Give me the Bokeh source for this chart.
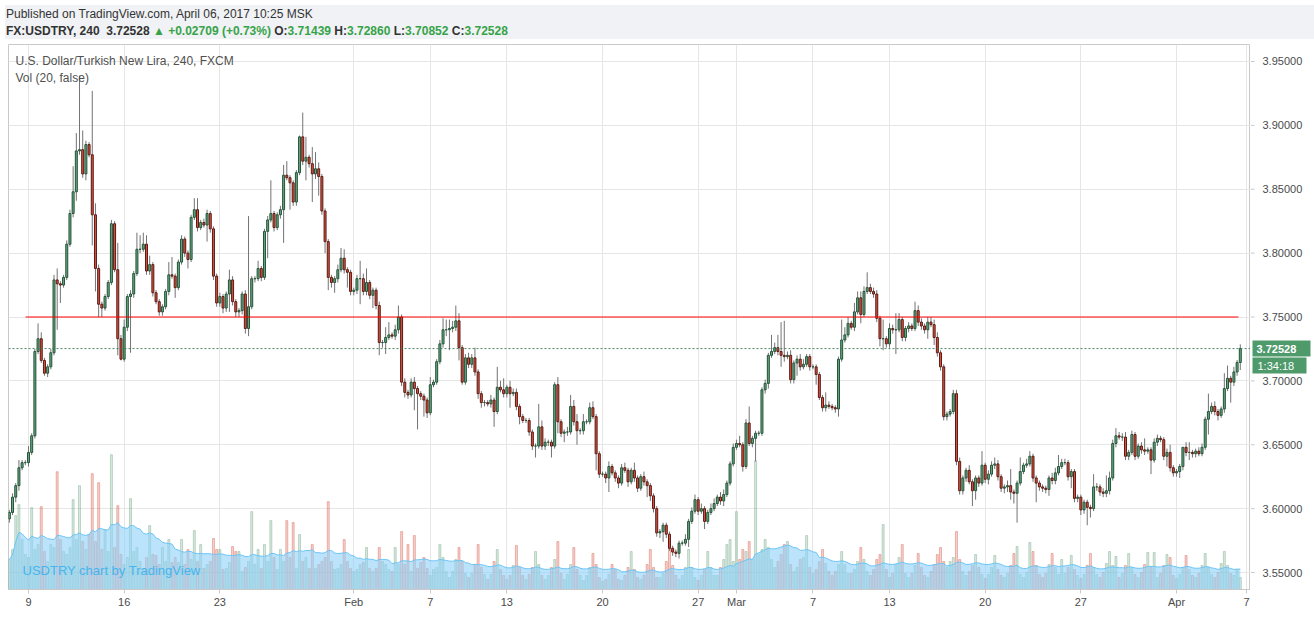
import numpy as np
import pandas as pd
from bokeh.plotting import figure
from bokeh.models import (Range1d, FixedTicker, Span, Label, ColumnDataSource, Div)
from bokeh.layouts import column, row
from bokeh.embed import file_html
from bokeh.resources import INLINE
from bokeh.core.properties import value

# ---------------- data ----------------
first_open = 3.592
close = [
    3.597, 3.609, 3.618, 3.632, 3.636, 3.636, 3.644, 3.657, 3.723, 3.733,
    3.716, 3.706, 3.711, 3.722, 3.779, 3.776, 3.775, 3.781, 3.807, 3.831,
    3.848, 3.880, 3.881, 3.862, 3.885, 3.877, 3.830, 3.788, 3.760, 3.757,
    3.766, 3.777, 3.823, 3.787, 3.733, 3.717, 3.742, 3.766, 3.768, 3.784,
    3.803, 3.803, 3.807, 3.786, 3.791, 3.769, 3.762, 3.754, 3.758, 3.770,
    3.783, 3.782, 3.773, 3.793, 3.811, 3.800, 3.795, 3.828, 3.834, 3.820,
    3.824, 3.822, 3.831, 3.819, 3.782, 3.761, 3.766, 3.757, 3.768, 3.779,
    3.762, 3.754, 3.755, 3.768, 3.741, 3.758, 3.780, 3.780, 3.788, 3.781,
    3.817, 3.826, 3.831, 3.820, 3.830, 3.834, 3.861, 3.859, 3.855, 3.840,
    3.863, 3.891, 3.872, 3.875, 3.870, 3.862, 3.866, 3.860, 3.833, 3.809,
    3.781, 3.777, 3.780, 3.787, 3.796, 3.787, 3.785, 3.770, 3.771, 3.780,
    3.780, 3.770, 3.777, 3.767, 3.771, 3.759, 3.730, 3.730, 3.734, 3.736,
    3.735, 3.740, 3.750, 3.699, 3.691, 3.689, 3.699, 3.694, 3.690, 3.688,
    3.685, 3.675, 3.697, 3.699, 3.715, 3.729, 3.740, 3.740, 3.741, 3.742,
    3.747, 3.726, 3.699, 3.718, 3.713, 3.718, 3.707, 3.690, 3.683, 3.683,
    3.682, 3.685, 3.676, 3.695, 3.693, 3.690, 3.695, 3.690, 3.691, 3.680,
    3.672, 3.669, 3.669, 3.660, 3.649, 3.649, 3.664, 3.649, 3.652, 3.652,
    3.649, 3.697, 3.668, 3.659, 3.660, 3.660, 3.680, 3.668, 3.661, 3.661,
    3.668, 3.668, 3.679, 3.672, 3.643, 3.627, 3.627, 3.624, 3.633, 3.628,
    3.624, 3.620, 3.632, 3.630, 3.621, 3.630, 3.624, 3.616, 3.625, 3.621,
    3.618, 3.610, 3.600, 3.581, 3.582, 3.587, 3.580, 3.569, 3.566, 3.565,
    3.573, 3.573, 3.576, 3.590, 3.598, 3.607, 3.598, 3.600, 3.590, 3.597,
    3.600, 3.604, 3.609, 3.606, 3.611, 3.620, 3.635, 3.648, 3.651, 3.650,
    3.633, 3.667, 3.651, 3.655, 3.659, 3.659, 3.693, 3.698, 3.720, 3.723,
    3.726, 3.723, 3.720, 3.719, 3.720, 3.701, 3.714, 3.717, 3.711, 3.713,
    3.719, 3.711, 3.711, 3.705, 3.687, 3.679, 3.681, 3.680, 3.679, 3.678,
    3.717, 3.732, 3.736, 3.745, 3.742, 3.754, 3.765, 3.752, 3.770, 3.773,
    3.770, 3.768, 3.749, 3.733, 3.733, 3.729, 3.741, 3.740, 3.740, 3.748,
    3.734, 3.741, 3.743, 3.741, 3.755, 3.746, 3.743, 3.740, 3.746, 3.744,
    3.734, 3.722, 3.711, 3.672, 3.674, 3.676, 3.690, 3.637, 3.614, 3.624,
    3.630, 3.621, 3.614, 3.624, 3.620, 3.634, 3.623, 3.627, 3.634, 3.635,
    3.625, 3.616, 3.617, 3.618, 3.613, 3.612, 3.620, 3.629, 3.634, 3.635,
    3.641, 3.624, 3.620, 3.617, 3.616, 3.615, 3.624, 3.622, 3.628, 3.633,
    3.636, 3.636, 3.625, 3.629, 3.608, 3.609, 3.599, 3.605, 3.601, 3.600,
    3.617, 3.617, 3.613, 3.612, 3.614, 3.624, 3.651, 3.657, 3.656, 3.656,
    3.641, 3.644, 3.658, 3.641, 3.649, 3.646, 3.645, 3.646, 3.638, 3.652,
    3.655, 3.654, 3.641, 3.644, 3.632, 3.628, 3.629, 3.633, 3.648, 3.644,
    3.644, 3.643, 3.645, 3.643, 3.648, 3.670, 3.676, 3.680, 3.676, 3.673,
    3.678, 3.694, 3.702, 3.699, 3.707, 3.7144, 3.72528,
]
# wick lengths beyond the body, in 0.001 units
upper_wick = [
    2, 3, 2, 6, 2, 2, 5, 2, 2, 12,   5, 2, 2, 3, 4, 9, 2, 2, 3, 3,
    20, 14, 58, 15, 3, 2, 50, 9, 3, 2,   2, 2, 3, 2, 21, 3, 6, 2, 3, 2,
    13, 11, 9, 7, 7, 2, 2, 2, 2, 2,   10, 14, 2, 2, 3, 2, 2, 2, 9, 9,
    2, 3, 3, 2, 2, 2, 3, 2, 2, 8,   3, 2, 2, 2, 3, 71, 2, 2, 6, 2,
    2, 3, 26, 2, 2, 3, 8, 11, 2, 2,   2, 1, 19, 16, 2, 13, 13, 5, 2, 2,
    2, 2, 2, 4, 8, 7, 2, 2, 2, 3,   14, 4, 11, 2, 2, 2, 3, 2, 8, 10,
    2, 4, 9, 2, 3, 2, 3, 4, 2, 2,   2, 2, 6, 2, 2, 3, 9, 8, 7, 5,
    12, 6, 2, 3, 4, 3, 8, 2, 2, 2,   2, 4, 2, 16, 5, 9, 2, 5, 3, 3,
    2, 2, 2, 2, 2, 2, 18, 5, 3, 2,   2, 2, 6, 2, 2, 4, 9, 5, 6, 2,
    6, 2, 4, 5, 2, 2, 2, 2, 4, 2,   2, 2, 3, 4, 2, 2, 6, 2, 2, 4,
    2, 2, 2, 2, 2, 2, 2, 2, 2, 2,   2, 2, 4, 2, 3, 4, 2, 4, 2, 2,
    4, 4, 2, 4, 4, 2, 2, 3, 3, 6,   2, 3, 13, 2, 2, 2, 2, 3, 2, 13,
    4, 10, 23, 27, 3, 4, 2, 3, 4, 4,   2, 2, 2, 2, 2, 2, 10, 3, 2, 2,
    2, 16, 6, 5, 2, 7, 5, 5, 4, 12,   3, 3, 3, 2, 15, 2, 4, 3, 13, 5,
    2, 2, 3, 2, 7, 4, 3, 2, 4, 4,   4, 4, 2, 2, 2, 2, 3, 3, 3, 2,
    2, 4, 2, 2, 2, 11, 2, 3, 3, 5,   3, 2, 2, 4, 13, 2, 2, 11, 2, 4,
    4, 2, 2, 2, 2, 2, 2, 4, 4, 9,   3, 3, 2, 2, 2, 2, 2, 2, 2, 2,
    10, 3, 2, 3, 12, 5, 3, 6, 3, 3,   4, 2, 3, 2, 2, 3, 9, 2, 2, 3,
    3, 2, 2, 3, 6, 2, 2, 2, 0, 4,   8, 2, 2, 3, 3, 2, 14, 3, 4, 2,
    2, 12, 10, 2, 4, 2, 3.3,
]
lower_wick = [
    3, 2, 4, 4, 2, 2, 3, 2, 2, 2,   2, 2, 3, 2, 2, 36, 14, 2, 2, 2,
    3, 7, 3, 3, 5, 2, 24, 18, 10, 7,   2, 2, 2, 2, 13, 1, 2, 3, 44, 3,
    2, 3, 2, 3, 3, 3, 2, 3, 3, 2,   3, 2, 8, 2, 2, 3, 7, 2, 2, 3,
    2, 2, 13, 3, 3, 3, 3, 4, 3, 14,   3, 4, 4, 3, 4, 6, 2, 3, 2, 3,
    2, 21, 2, 3, 2, 3, 26, 2, 21, 3,   3, 2, 3, 15, 3, 22, 4, 15, 3, 9,
    10, 4, 8, 3, 2, 3, 12, 3, 3, 3,   20, 3, 3, 3, 10, 3, 10, 4, 9, 2,
    2, 3, 3, 3, 4, 3, 2, 17, 28, 3,   13, 4, 2, 2, 2, 2, 3, 5, 16, 3,
    3, 10, 2, 2, 3, 3, 3, 4, 4, 3,   2, 3, 12, 2, 2, 3, 3, 11, 2, 3,
    6, 2, 2, 3, 3, 9, 2, 3, 3, 3,   9, 2, 9, 3, 7, 3, 2, 3, 11, 3,
    3, 2, 2, 2, 13, 3, 2, 4, 11, 2,   3, 4, 2, 2, 4, 2, 3, 3, 2, 3,
    9, 4, 3, 3, 4, 8, 3, 2, 3, 3,   4, 2, 2, 6, 2, 2, 3, 2, 6, 2,
    2, 2, 2, 3, 4, 2, 2, 2, 2, 2,   4, 2, 2, 3, 18, 2, 2, 3, 4, 2,
    2, 3, 9, 4, 2, 3, 3, 10, 3, 2,   2, 3, 2, 8, 2, 3, 3, 2, 2, 3,
    6, 2, 2, 2, 2, 3, 2, 7, 2, 2,   2, 3, 3, 6, 9, 3, 3, 3, 19, 2,
    3, 3, 3, 2, 2, 3, 3, 3, 7, 2,   6, 3, 3, 3, 3, 2, 2, 3, 3, 3,
    3, 2, 12, 7, 3, 2, 3, 4, 2, 3,   3, 3, 4, 4, 6, 8, 23, 2, 2, 2,
    2, 3, 15, 3, 3, 3, 5, 3, 3, 2,   2, 2, 3, 9, 3, 3, 4, 3, 14, 7,
    2, 3, 3, 3, 3, 3, 2, 3, 2, 3,   3, 3, 2, 3, 2, 3, 3, 2, 11, 2,
    3, 2, 3, 8, 3, 3, 3, 5, 3, 3,   6, 3, 3, 2, 2, 2, 12, 2, 3, 4,
    2, 3, 2, 16, 3, 3, 5.9,
]
# volume per bar (relative units), one row per trading day
volume = [
    30, 40, 74, 85, 50, 35,
    32, 82, 40, 45, 83, 38,
    28, 45, 42, 118, 50, 38,
    35, 42, 90, 50, 104, 48,
    40, 55, 116, 48, 107, 40,
    60, 38, 135, 42, 84, 35,
    25, 32, 91, 38, 42, 28,
    21, 32, 64, 35, 34, 25,
    42, 28, 50, 27, 32, 27,
    50, 25, 40, 30, 59, 28,
    45, 21, 25, 28, 51, 40,
    40, 20, 21, 27, 43, 38,
    38, 18, 22, 28, 78, 25,
    40, 21, 45, 28, 69, 32,
    20, 40, 28, 69, 32, 67,
    21, 55, 28, 32, 21, 45,
    21, 25, 28, 32, 88, 28,
    20, 21, 25, 50, 28, 21,
    18, 20, 25, 27, 42, 21,
    18, 21, 42, 28, 25, 20,
    18, 42, 25, 58, 25, 45,
    18, 54, 21, 27, 32, 21,
    14, 20, 22, 45, 32, 18,
    12, 18, 30, 42, 28, 16,
    12, 16, 25, 45, 22, 15,
    10, 15, 28, 40, 20, 14,
    10, 14, 24, 44, 22, 14,
    10, 15, 22, 38, 25, 14,
    10, 14, 22, 30, 48, 16,
    10, 15, 25, 42, 20, 14,
    9, 14, 22, 36, 25, 12,
    8, 10, 15, 25, 20, 10,
    9, 14, 22, 38, 20, 12,
    10, 14, 25, 40, 22, 12,
    12, 16, 28, 45, 24, 14,
    10, 14, 22, 40, 22, 12,
    9, 14, 20, 38, 22, 14,
    14, 22, 30, 45, 50, 28,
    78, 30, 40, 38, 48, 30,
    129, 35, 40, 50, 42, 30,
    22, 28, 35, 45, 48, 25,
    18, 22, 30, 32, 54, 22,
    16, 20, 28, 40, 26, 18,
    14, 18, 25, 38, 25, 16,
    16, 20, 28, 42, 30, 18,
    14, 20, 30, 35, 65, 20,
    12, 16, 25, 32, 45, 16,
    12, 16, 24, 36, 22, 14,
    12, 18, 25, 35, 42, 28,
    22, 28, 32, 58, 30, 18,
    14, 18, 24, 35, 22, 15,
    11, 15, 22, 34, 20, 14,
    12, 16, 24, 36, 43, 15,
    12, 17, 47, 38, 24, 15,
    12, 16, 25, 36, 22, 15,
    30, 16, 22, 34, 20, 14,
    11, 15, 24, 36, 22, 15,
    12, 17, 26, 38, 24, 33,
    12, 16, 24, 36, 22, 15,
    12, 17, 25, 37, 22, 37,
    12, 16, 24, 35, 32, 14,
    11, 15, 22, 34, 20, 14,
    12, 16, 24, 36, 22, 15,
    12, 17, 26, 38, 24, 16,
    14, 20, 12,
]
tick_bars = [6, 36, 66, 108, 132, 156, 186, 216, 228, 252, 276, 306, 336, 366, 388]
tick_labels = ["9", "16", "23", "Feb", "7", "13", "20", "27", "Mar", "7", "13", "20", "27", "Apr", "7"]
price_ticks = [3.55, 3.60, 3.65, 3.70, 3.75, 3.80, 3.85, 3.90, 3.95]
level_price = 3.75
level_start_bar = 5.1
level_end_bar = 385.4
last_price = 3.72528
countdown = "1:34:18"
vol_ma_length = 20

# ---------------- derived ----------------
n = len(close)
idx = np.arange(n)
c = np.array(close)
o = np.concatenate([[first_open], c[:-1]])
top = np.maximum(o, c)
bot = np.minimum(o, c)
high = top + np.array(upper_wick) / 1000.0
low = bot - np.array(lower_wick) / 1000.0
up = c >= o
vol = np.array(volume, dtype=float)
vol_ma = pd.Series(vol).rolling(vol_ma_length, min_periods=1).mean().values

UP_FILL, UP_LINE = "#6ba583", "#225437"
DN_FILL, DN_LINE = "#d75442", "#5b1a13"
WICK = "#737375"
TXT = "#4a4a4a"
AXIS = "#c9c9c9"
TAG = "#4f9a6b"
FONT = "Liberation Sans"

src = ColumnDataSource(dict(
    x=idx, top=top, bot=bot, high=high, low=low, vol=vol, ma=vol_ma,
    fill=[UP_FILL if u else DN_FILL for u in up],
    line=[UP_LINE if u else DN_LINE for u in up],
))

LEFT = 8
FRAME_W = 1242
FRAME_H = 546
FIG_H = 566
STRIP_W = 62
TOTAL_W = LEFT + FRAME_W + STRIP_W

Y0, Y1 = 3.5367, 3.9633
y_range = Range1d(Y0, Y1)
p = figure(width=LEFT + FRAME_W, height=FIG_H, output_backend="svg", toolbar_location=None,
           x_range=Range1d(-0.27, 389.2), y_range=y_range,
           y_axis_location=None, min_border_left=LEFT, min_border_top=0,
           min_border_right=0, min_border_bottom=FIG_H - FRAME_H,
           background_fill_color="white", border_fill_color="white",
           outline_line_color=AXIS)
p.extra_y_ranges = {"vol": Range1d(0, FRAME_H)}

# grid
p.xgrid.ticker = FixedTicker(ticks=tick_bars)
p.ygrid.ticker = FixedTicker(ticks=price_ticks)
p.xgrid.grid_line_color = "#e6e6e6"
p.ygrid.grid_line_color = "#e6e6e6"

# volume bars + volume MA area
p.vbar(x="x", width=0.62, top="vol", bottom=0, source=src, y_range_name="vol",
       fill_color="fill", fill_alpha=0.25, line_color="fill", line_alpha=0.4, line_width=1)
p.varea(x="x", y1=0, y2="ma", source=src, y_range_name="vol",
        fill_color="#8dd2fa", fill_alpha=0.6)
p.line(x="x", y="ma", source=src, y_range_name="vol", line_color="#6cc4f5", line_width=1)

# candles
p.segment(x0="x", y0="low", x1="x", y1="high", source=src, line_color=WICK, line_width=1)
p.vbar(x="x", width=0.62, top="top", bottom="bot", source=src,
       fill_color="fill", line_color="line", line_width=1)

# horizontal level line
p.segment(x0=[level_start_bar], y0=[level_price], x1=[level_end_bar], y1=[level_price],
          line_color="#ff0000", line_width=1)
# last price line
p.add_layout(Span(location=last_price, dimension="width", line_color="#3d7a57",
                  line_dash="2 2", line_width=1, line_alpha=0.9))

# time axis
xa = p.xaxis[0]
xa.ticker = FixedTicker(ticks=tick_bars)
xa.major_label_overrides = {t: l for t, l in zip(tick_bars, tick_labels)}
xa.major_label_text_font = FONT
xa.major_label_text_font_size = "11px"
xa.major_label_text_color = TXT
xa.axis_line_color = AXIS
xa.major_tick_line_color = AXIS
xa.major_tick_out = 4
xa.major_tick_in = 0
xa.minor_tick_line_color = None
xa.major_label_standoff = 2

# in-chart legend texts (screen units relative to the frame)
p.add_layout(Label(x=7, y=FRAME_H - 17, x_units="screen", y_units="screen",
                   text="U.S. Dollar/Turkish New Lira, 240, FXCM", text_baseline="middle",
                   text_font=FONT, text_font_size="12px", text_color="#505050"))
p.add_layout(Label(x=7, y=FRAME_H - 34, x_units="screen", y_units="screen",
                   text="Vol (20, false)", text_baseline="middle",
                   text_font=FONT, text_font_size="12px", text_color="#505050"))
p.add_layout(Label(x=14, y=19, x_units="screen", y_units="screen",
                   text="USDTRY chart by TradingView", text_baseline="middle",
                   text_font=FONT, text_font_size="13px", text_color="#45b5ee"))

# ---------------- price scale strip ----------------
s = figure(width=STRIP_W, height=FIG_H, output_backend="svg", toolbar_location=None,
           x_range=Range1d(0, STRIP_W), y_range=y_range,
           x_axis_location=None, y_axis_location=None,
           min_border_left=0, min_border_right=0, min_border_top=0,
           min_border_bottom=FIG_H - FRAME_H,
           background_fill_color="white", border_fill_color="white",
           outline_line_color=None)
s.xgrid.visible = False
s.ygrid.visible = False
tick_src = ColumnDataSource(dict(y=price_ticks, label=[f"{t:.5f}" for t in price_ticks]))
s.segment(x0=0, y0="y", x1=4, y1="y", source=tick_src, line_color=AXIS, line_width=1)
s.text(x=12, y="y", text="label", source=tick_src, text_baseline="middle",
       text_font=value(FONT), text_font_size="11px", text_color=TXT)

# price tag and countdown tag (countdown sits 17px below the price tag)
px_per_unit = FRAME_H / (Y1 - Y0)
countdown_y = last_price - 17 / px_per_unit
s.rect(x=[31, 29], y=[last_price, countdown_y], width=[58, 54], height=[16, 16],
       width_units="screen", height_units="screen", fill_color=TAG, line_color=None)
s.text(x=[6], y=[last_price], text=[f"{last_price:.5f}"], text_baseline="middle",
       text_font=value(FONT), text_font_size="11px", text_font_style="bold",
       text_color="white")
s.text(x=[7], y=[countdown_y], text=[countdown], text_baseline="middle",
       text_font=value(FONT), text_font_size="11px", text_color="white")

header = Div(width=TOTAL_W, height=34, text=(
    "<div style=\"position:relative;top:1px;left:1px;font-family:'Liberation Sans',Arial,sans-serif;"
    "font-size:12px;line-height:17px;color:#333333;white-space:nowrap;\">"
    "<div>Published on TradingView.com, April 06, 2017 10:25 MSK</div>"
    "<div style='font-weight:bold'>FX:USDTRY, 240&nbsp; 3.72528 "
    "<span style='color:#37a349'>&#9650; +0.02709 (+0.73%)</span> "
    "O:<span style='color:#37a349'>3.71439</span> H:<span style='color:#37a349'>3.72860</span> "
    "L:<span style='color:#37a349'>3.70852</span> C:<span style='color:#37a349'>3.72528</span></div>"
    "</div>"),
    styles={"background-color": "#f0f2f5"})

layout = column(header, row(p, s, spacing=0), spacing=0)
open("out.html", "w").write(file_html(layout, INLINE))
